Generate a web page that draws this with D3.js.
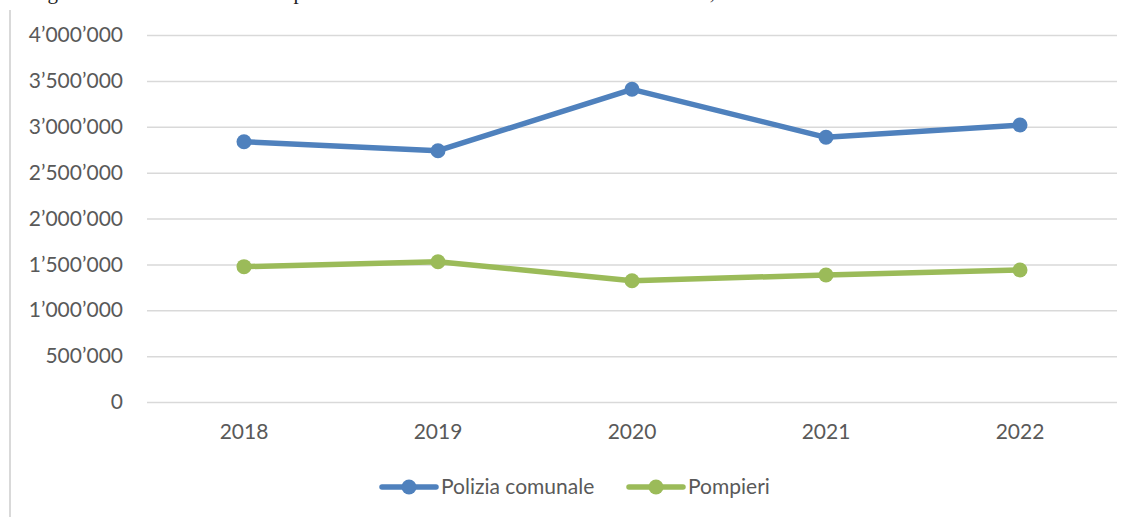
<!DOCTYPE html>
<html><head><meta charset="utf-8">
<script src="https://cdn.jsdelivr.net/npm/d3@7"></script>
<style>body{margin:0;background:#fff}svg{display:block}</style>
</head><body>
<svg id="c" width="1134" height="517"></svg>
<script>
const years = ["2018","2019","2020","2021","2022"];
const polizia = [2837000, 2739000, 3408000, 2885000, 3019000];
const pompieri = [1475000, 1529000, 1322000, 1384000, 1439000];
const seriesNames = ["Polizia comunale","Pompieri"];
const seriesColors = ["#4F81BD","#9BBB59"];
const yTicks = [0,500000,1000000,1500000,2000000,2500000,3000000,3500000,4000000];
const caption = "Figura 3: Totale annuale delle spese della Polizia comunale e dei Militi del fuoco, 2018–2022";

(function(){
const svg = d3.select("#c");
const W=1134,H=517;
const mLeft=147,mRight=1117,mTop=35,mBottom=402;
const font = "Lato, 'Open Sans', sans-serif";
const fs = 21;
const loc = d3.formatLocale({decimal:".",thousands:"\u2019",grouping:[3],currency:["",""]});
const fmt = loc.format(",d");

svg.append("text").attr("x",30).attr("y",-1).attr("font-family","'Liberation Serif', serif")
  .attr("font-size",21).attr("fill","#222").text(caption);
svg.append("line").attr("x1",10).attr("x2",10).attr("y1",10).attr("y2",H)
  .attr("stroke","#d9d9d9").attr("stroke-width",2);

const x = d3.scaleBand().domain(years).range([mLeft,mRight]);
const y = d3.scaleLinear().domain([0,4000000]).range([mBottom,mTop]);

const gy = svg.append("g").attr("transform",`translate(${mLeft},0)`)
  .call(d3.axisLeft(y).tickValues(yTicks).tickFormat(fmt).tickSize(-(mRight-mLeft)).tickPadding(24));
gy.select(".domain").remove();
gy.selectAll(".tick line").attr("stroke","#d9d9d9").attr("stroke-width",1.5);
gy.selectAll(".tick text").attr("font-family",font).attr("font-size",fs).attr("fill","#595959");

const gx = svg.append("g").attr("transform",`translate(0,${mBottom})`)
  .call(d3.axisBottom(x).tickSize(0).tickPadding(22));
gx.select(".domain").remove();
gx.selectAll(".tick text").attr("font-family",font).attr("font-size",fs).attr("fill","#595959");

const data = [polizia,pompieri];
const line = d3.line().x((d,i)=>x(years[i])+x.bandwidth()/2).y(d=>y(d));
data.forEach((s,k)=>{
  svg.append("path").datum(s).attr("d",line).attr("fill","none")
    .attr("stroke",seriesColors[k]).attr("stroke-width",5.5).attr("stroke-linejoin","round");
  svg.selectAll(null).data(s).enter().append("circle")
    .attr("cx",(d,i)=>x(years[i])+x.bandwidth()/2).attr("cy",d=>y(d)).attr("r",7.5)
    .attr("fill",seriesColors[k]);
});

const legX=[382,629];
const lg = svg.append("g");
seriesNames.forEach((n,k)=>{
  const g = lg.append("g").attr("transform",`translate(${legX[k]},487)`);
  g.append("line").attr("x1",0).attr("x2",54).attr("stroke",seriesColors[k]).attr("stroke-width",5.5).attr("stroke-linecap","round");
  g.append("circle").attr("cx",27).attr("r",7.5).attr("fill",seriesColors[k]);
  g.append("text").attr("x",59).attr("dy","0.35em").attr("font-family",font).attr("font-size",fs)
    .attr("fill","#595959").text(n);
});
})();
</script>
</body></html>
